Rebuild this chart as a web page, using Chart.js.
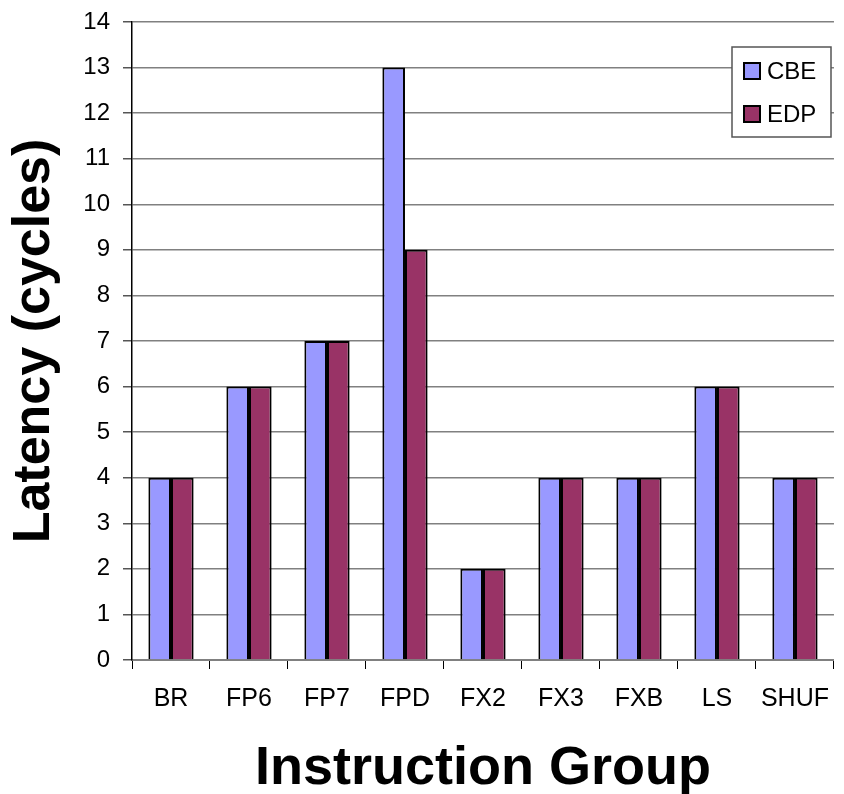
<!DOCTYPE html>
<html>
<head>
<meta charset="utf-8">
<script src="https://cdn.jsdelivr.net/npm/chart.js@4"></script>
<style>
  html, body { margin: 0; padding: 0; background: #fff; }
  #wrap { width: 844px; height: 794px; }
</style>
</head>
<body>
<div id="wrap"><canvas id="latencyChart" width="844" height="794"></canvas></div>
<script>
// data
var groups = ['BR', 'FP6', 'FP7', 'FPD', 'FX2', 'FX3', 'FXB', 'LS', 'SHUF'];
var cbeLatency = [4, 6, 7, 13, 2, 4, 4, 6, 4];
var edpLatency = [4, 6, 7, 9, 2, 4, 4, 6, 4];
var seriesNames = ['CBE', 'EDP'];

var FONT = '"Liberation Sans", Arial, sans-serif';

// boxed legend sitting inside the plot, top right
var boxLegend = {
    id: 'boxLegend',
    afterDraw: function (chart) {
        var c = chart.ctx;
        var x = 732, y = 47, w = 99, h = 90;
        c.save();
        c.fillStyle = '#fff';
        c.fillRect(x, y, w, h);
        c.strokeStyle = '#555';
        c.lineWidth = 1.5;
        c.strokeRect(x, y, w, h);
        c.font = '24px ' + FONT;
        c.textBaseline = 'middle';
        chart.data.datasets.forEach(function (ds, i) {
            var cy = y + 24 + i * 43;
            c.fillStyle = ds.backgroundColor;
            c.fillRect(x + 11, cy - 9, 18, 18);
            c.strokeStyle = '#000';
            c.lineWidth = 2;
            c.strokeRect(x + 12, cy - 8, 16, 16);
            c.fillStyle = '#000';
            c.fillText(ds.label, x + 35, cy + 1);
        });
        c.restore();
    }
};

var ctx = document.getElementById('latencyChart').getContext('2d');
var chart = new Chart(ctx, {
    type: 'bar',
    data: {
        labels: groups,
        datasets: [{
            label: seriesNames[0],
            data: cbeLatency,
            backgroundColor: '#9999FF',
            borderColor: '#000',
            borderWidth: 2
        }, {
            label: seriesNames[1],
            data: edpLatency,
            backgroundColor: '#993366',
            borderColor: '#000',
            borderWidth: 2
        }]
    },
    options: {
        responsive: false,
        animation: false,
        layout: { padding: { top: 22, right: 0, left: 0, bottom: 0 } },
        plugins: {
            legend: { display: false },
            tooltip: { enabled: false }
        },
        datasets: {
            bar: { categoryPercentage: 0.58, barPercentage: 1 }
        },
        scales: {
            x: {
                grid: {
                    offset: true,
                    drawOnChartArea: false,
                    drawTicks: true,
                    tickLength: 9,
                    color: '#000'
                },
                border: { color: '#808080', width: 2 },
                ticks: {
                    color: '#000',
                    font: { family: FONT, size: 25 },
                    padding: 15,
                    maxRotation: 0
                },
                title: {
                    display: true,
                    text: 'Instruction Group',
                    color: '#000',
                    font: { family: FONT, size: 54, weight: 'bold' },
                    padding: { top: 0, bottom: -8 }
                },
                afterFit: function (scale) { scale.height = 134; }
            },
            y: {
                min: 0,
                max: 14,
                ticks: {
                    stepSize: 1,
                    color: '#000',
                    font: { family: FONT, size: 24 },
                    padding: 13
                },
                grid: {
                    color: '#808080',
                    lineWidth: 1.5,
                    tickColor: '#555',
                    tickLength: 9
                },
                border: { color: '#000', width: 1.5 },
                title: {
                    display: true,
                    text: 'Latency (cycles)',
                    color: '#000',
                    font: { family: FONT, size: 52, weight: 'bold' },
                    padding: { top: 3, bottom: 0 }
                },
                afterFit: function (scale) {
                    scale.width = 132;
                    scale.paddingTop = 0;
                    scale.paddingBottom = 0;
                }
            }
        }
    },
    plugins: [boxLegend]
});
</script>
</body>
</html>
